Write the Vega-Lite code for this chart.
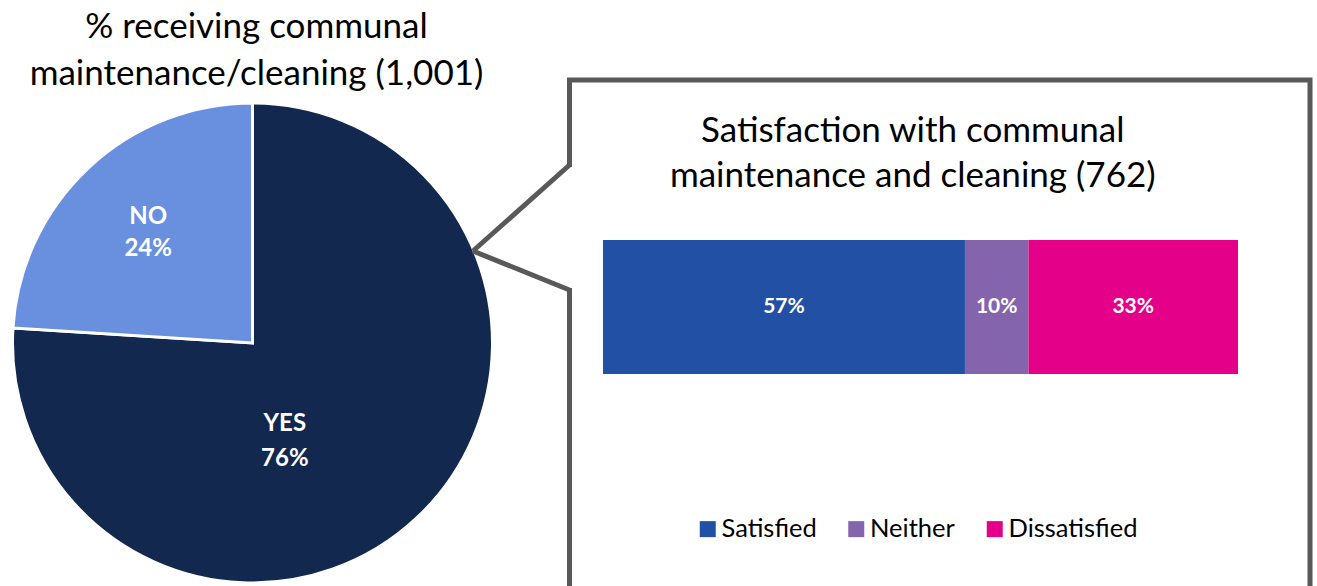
{
  "$schema": "https://vega.github.io/schema/vega-lite/v6.json",
  "background": "white",
  "padding": {"left": 0, "top": 10, "right": 0, "bottom": 0},
  "config": {
    "view": {"stroke": null},
    "font": "Lato",
    "title": {"font": "Lato", "fontWeight": "normal", "color": "#000000"}
  },
  "bounds": "flush",
  "spacing": 64.5,
  "resolve": {
    "scale": {"color": "independent", "theta": "independent"},
    "legend": {"color": "independent"}
  },
  "hconcat": [
    {
      "width": 505,
      "height": 526,
      "title": {
        "text": ["% receiving communal", "maintenance/cleaning (1,001)"],
        "fontSize": 35,
        "lineHeight": 47,
        "offset": -12,
        "dx": 4,
        "anchor": "middle"
      },
      "data": {"values": [{"answer": "YES", "pct": 0.76}, {"answer": "NO", "pct": 0.24}]},
      "layer": [
        {
          "mark": {"type": "arc", "outerRadius": 240, "stroke": "white", "strokeWidth": 3},
          "encoding": {
            "theta": {"field": "pct", "type": "quantitative", "stack": true},
            "order": {"field": "answer", "sort": "descending"},
            "color": {
              "field": "answer",
              "type": "nominal",
              "scale": {"domain": ["YES", "NO"], "range": ["#13284F", "#6990DF"]},
              "legend": null
            }
          }
        },
        {
          "transform": [
            {"stack": "pct", "groupby": [], "sort": [{"field": "answer", "order": "descending"}], "as": ["t0", "t1"]},
            {"calculate": "(datum.t0 + datum.t1) / 2", "as": "tm"},
            {"calculate": "datum.answer + '\\n' + format(datum.pct, '.0%')", "as": "lab"},
            {"filter": "datum.answer === 'NO'"}
          ],
          "mark": {"type": "text", "radius": 151, "dx": -1, "dy": -16, "lineBreak": "\n", "font": "Lato", "fontWeight": "bold", "fontSize": 24, "lineHeight": 32, "color": "white", "baseline": "middle", "align": "center"},
          "encoding": {
            "theta": {"field": "tm", "type": "quantitative", "stack": null},
            "text": {"field": "lab"}
          }
        },
        {
          "transform": [
            {"stack": "pct", "groupby": [], "sort": [{"field": "answer", "order": "descending"}], "as": ["t0", "t1"]},
            {"calculate": "(datum.t0 + datum.t1) / 2", "as": "tm"},
            {"calculate": "datum.answer + '\\n' + format(datum.pct, '.0%')", "as": "lab"},
            {"filter": "datum.answer === 'YES'"}
          ],
          "mark": {"type": "text", "radius": 102, "dx": -37.5, "dy": 6.5, "lineBreak": "\n", "font": "Lato", "fontWeight": "bold", "fontSize": 24, "lineHeight": 35, "color": "white", "baseline": "middle", "align": "center"},
          "encoding": {
            "theta": {"field": "tm", "type": "quantitative", "stack": null},
            "text": {"field": "lab"}
          }
        }
      ]
    },
    {
      "width": 740.5,
      "height": 540,
      "view": {"stroke": "#595959", "strokeWidth": 5},
      "title": {
        "text": ["Satisfaction with communal", "maintenance and cleaning (762)"],
        "fontSize": 35,
        "lineHeight": 45,
        "offset": -114,
        "dx": -27,
        "anchor": "middle"
      },
      "layer": [
        {
          "data": {"values": [
            {"cat": "Satisfied", "pct": 0.57},
            {"cat": "Neither", "pct": 0.10},
            {"cat": "Dissatisfied", "pct": 0.33}
          ]},
          "transform": [
            {"stack": "pct", "groupby": [], "sort": [{"field": "cat", "order": "descending"}], "as": ["x0", "x1"]},
            {"calculate": "(datum.x0 + datum.x1) / 2", "as": "xm"}
          ],
          "layer": [
            {
              "mark": {"type": "bar"},
              "encoding": {
                "x": {"field": "x0", "type": "quantitative", "scale": {"domain": [0, 1], "range": [33.5, 668.5]}, "axis": null},
                "x2": {"field": "x1"},
                "y": {"datum": "bar", "type": "nominal", "scale": {"range": [160, 294], "paddingInner": 0, "paddingOuter": 0}, "axis": null},
                "color": {
                  "field": "cat",
                  "type": "nominal",
                  "scale": {"domain": ["Satisfied", "Neither", "Dissatisfied"], "range": ["#2250A5", "#8464AD", "#E5008A"]},
                  "legend": {
                    "orient": "none",
                    "legendX": 125.5,
                    "legendY": 436,
                    "direction": "horizontal",
                    "title": null,
                    "symbolType": "square",
                    "symbolSize": 256,
                    "symbolStrokeWidth": 0,
                    "labelFontSize": 25.5,
                    "labelFont": "Lato",
                    "labelColor": "#000000",
                    "labelOffset": 1,
                    "columnPadding": 26.5,
                    "padding": 0
                  }
                }
              }
            },
            {
              "mark": {"type": "text", "color": "white", "font": "Lato", "fontWeight": "bold", "fontSize": 21, "baseline": "middle", "align": "center"},
              "encoding": {
                "x": {"field": "xm", "type": "quantitative"},
                "y": {"datum": "bar", "type": "nominal"},
                "text": {"field": "pct", "format": ".0%"}
              }
            }
          ]
        },
        {
          "data": {"values": [{}]},
          "mark": {"type": "rule", "color": "white", "strokeWidth": 9},
          "encoding": {"x": {"value": 0}, "x2": {"value": 0}, "y": {"value": 87}, "y2": {"value": 208}}
        },
        {
          "data": {"values": [{}]},
          "mark": {"type": "rule", "color": "#595959", "strokeWidth": 5},
          "encoding": {"x": {"value": 0}, "y": {"value": 85}, "x2": {"value": -96.5}, "y2": {"value": 171}}
        },
        {
          "data": {"values": [{}]},
          "mark": {"type": "rule", "color": "#595959", "strokeWidth": 5},
          "encoding": {"x": {"value": -96.5}, "y": {"value": 171}, "x2": {"value": 0}, "y2": {"value": 210}}
        }
      ]
    }
  ]
}
